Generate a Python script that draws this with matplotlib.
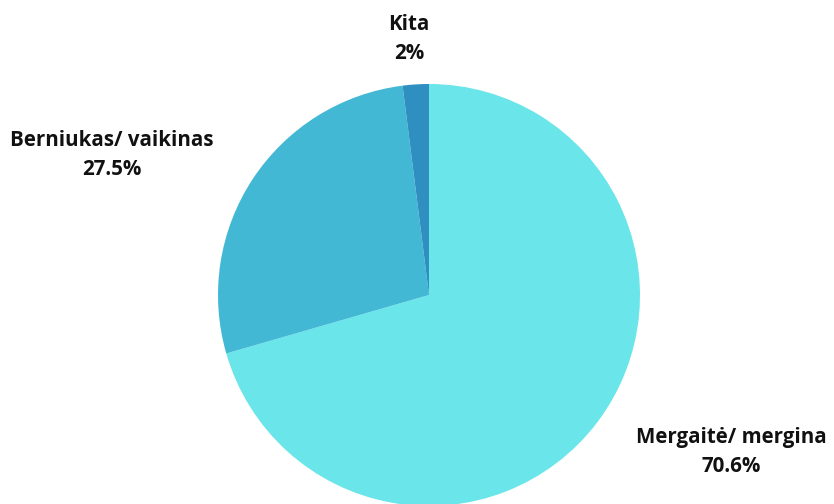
import matplotlib
matplotlib.use("Agg")
import matplotlib.pyplot as plt

# data
labels = ["Mergaitė/ mergina", "Berniukas/ vaikinas", "Kita"]
values = [70.6, 27.5, 2.0]
pct_text = ["70.6%", "27.5%", "2%"]
colors = ["#6AE5E9", "#42B8D5", "#2F8FC0"]

W, H = 834, 504
fig = plt.figure(figsize=(W / 100, H / 100), dpi=100)
fig.patch.set_facecolor("white")
ax = fig.add_axes([0, 0, 1, 1])

cx, cy, r = 429, H - 295, 211
ax.pie(values, colors=colors, startangle=90, counterclock=False,
       center=(cx, cy), radius=r, frame=True,
       wedgeprops=dict(linewidth=0))
ax.set_xlim(0, W)
ax.set_ylim(0, H)
ax.axis("off")

# label positions in pixel coords (x, y from top)
label_pos = [(731, 452), (112, 155), (409, 39)]
for lab, pct, (x, y) in zip(labels, pct_text, label_pos):
    ax.text(x, H - y, f"{lab}\n{pct}", ha="center", va="center",
            fontsize=14.8, fontweight="bold", family="Open Sans",
            color="#111111", linespacing=1.45)

fig.savefig("out.png", dpi=100, facecolor="white")
